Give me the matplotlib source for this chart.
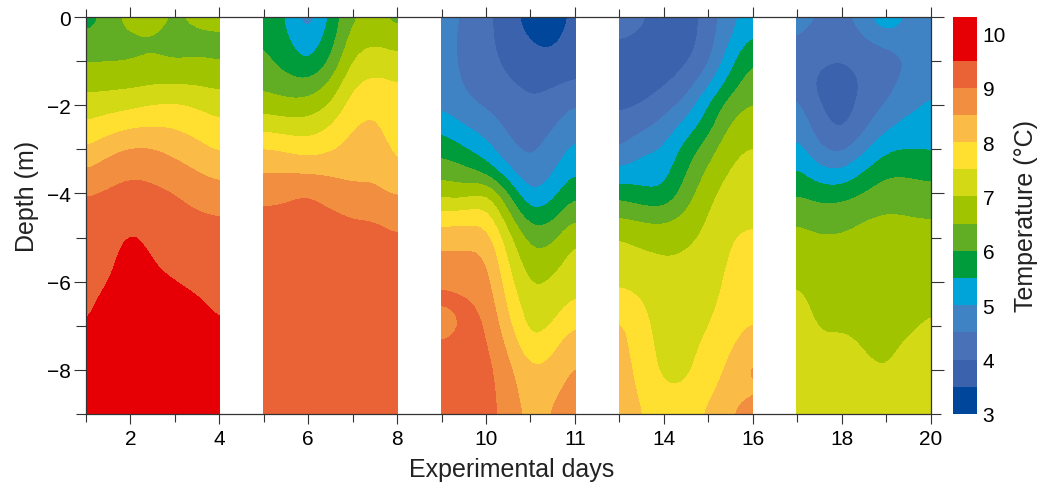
import numpy as np
import matplotlib
matplotlib.use('Agg')
import matplotlib.pyplot as plt

plt.rcParams['font.family'] = ['Liberation Sans', 'DejaVu Sans']

depth = [0, -0.5, -1, -1.5, -2, -2.5, -3, -3.5, -4, -4.5, -5, -5.5, -6, -6.5, -7, -7.5, -8, -8.5, -9]

levels = [3, 3.5, 4, 4.5, 5, 5.5, 6, 6.5, 7, 7.5, 8, 8.5, 9, 9.5, 10.3]
colors = ['#00469b', '#3a62ad', '#4971b8', '#3f83c4', '#00a4d9', '#009b3a', '#61ae24',
          '#a0c400', '#d4d916', '#ffdf2f', '#fbbc47', '#f28e40', '#ea6336', '#e60005']

x_major = [2, 4, 6, 8, 10, 12, 14, 16, 18, 20]
x_labels = ['2', '4', '6', '8', '10', '11', '14', '16', '18', '20']
y_major = [0, -2, -4, -6, -8]
y_labels = ['0', '\u22122', '\u22124', '\u22126', '\u22128']
cbar_ticks = [3, 4, 5, 6, 7, 8, 9, 10]

# each inner list is one day column, surface to bottom
days1 = [1, 1.5, 2, 2.5, 3, 3.5, 4]
temp1 = [
    [5.5, 6.2, 6.45, 6.81, 7.2, 7.59, 8.0, 8.5, 9.0, 9.09, 9.15, 9.2, 9.26, 9.33, 9.45, 9.7, 9.9, 10, 10],
    [6.3, 6.35, 6.45, 6.83, 7.28, 7.78, 8.34, 8.8, 9.06, 9.17, 9.25, 9.35, 9.48, 9.7, 9.85, 10, 10, 10, 10],
    [6.7, 6.4, 6.45, 6.85, 7.37, 7.95, 8.56, 8.94, 9.15, 9.38, 9.6, 9.75, 9.8, 9.8, 9.9, 10, 10, 10, 10],
    [6.75, 6.45, 6.54, 6.94, 7.5, 8.02, 8.53, 8.9, 9.09, 9.22, 9.35, 9.48, 9.6, 9.75, 9.85, 9.95, 10, 10, 10],
    [6.4, 6.3, 6.47, 6.95, 7.57, 7.97, 8.34, 8.7, 9.02, 9.14, 9.25, 9.37, 9.5, 9.65, 9.8, 9.9, 10, 10, 10],
    [6.7, 6.3, 6.54, 6.92, 7.44, 7.8, 8.14, 8.49, 8.82, 9.05, 9.17, 9.29, 9.41, 9.55, 9.7, 9.85, 10, 10, 10],
    [6.75, 6.35, 6.45, 6.85, 7.26, 7.61, 7.91, 8.31, 8.69, 9.01, 9.11, 9.21, 9.31, 9.41, 9.5, 9.7, 9.9, 10, 10],
]

days2 = [5, 5.5, 6, 6.5, 7, 7.5, 8]
temp2 = [
    [6.05, 6.05, 6.1, 6.38, 6.76, 7.36, 8.04, 8.48, 8.84, 9.1, 9.2, 9.22, 9.25, 9.25, 9.25, 9.25, 9.25, 9.25, 9.25],
    [5.45, 5.55, 5.8, 6.15, 6.65, 7.25, 7.92, 8.46, 8.92, 9.1, 9.2, 9.22, 9.25, 9.25, 9.25, 9.25, 9.25, 9.25, 9.25],
    [4.5, 5.1, 5.35, 6.1, 6.66, 7.22, 7.76, 8.42, 9.05, 9.15, 9.2, 9.22, 9.25, 9.25, 9.25, 9.25, 9.25, 9.25, 9.25],
    [5.6, 5.7, 6.0, 6.5, 7.0, 7.5, 7.92, 8.4, 8.78, 9.1, 9.2, 9.22, 9.25, 9.25, 9.25, 9.25, 9.25, 9.25, 9.25],
    [6.5, 6.77, 7.07, 7.45, 7.75, 8.02, 8.19, 8.36, 8.6, 8.97, 9.15, 9.2, 9.22, 9.25, 9.25, 9.25, 9.25, 9.25, 9.25],
    [6.55, 6.9, 7.3, 7.62, 7.98, 8.1, 8.23, 8.44, 8.6, 8.96, 9.15, 9.2, 9.22, 9.25, 9.25, 9.25, 9.25, 9.25, 9.25],
    [6.3, 6.7, 7.16, 7.5, 7.62, 7.74, 7.87, 7.98, 8.45, 8.75, 9.05, 9.15, 9.2, 9.22, 9.25, 9.25, 9.25, 9.25, 9.25],
]

days3 = [9, 9.5, 10, 10.5, 11, 11.5, 12]
temp3 = [
    [4.6, 4.65, 4.7, 4.75, 4.9, 5.4, 5.85, 6.3, 6.82, 7.65, 8.3, 8.6, 8.95, 9.15, 8.4, 9.25, 9.3, 9.3, 9.3],
    [4.5, 4.42, 4.4, 4.45, 4.6, 5.0, 5.55, 6.15, 6.72, 7.72, 8.3, 8.65, 8.85, 9.1, 9.2, 9.25, 9.3, 9.3, 9.3],
    [4.15, 4.15, 4.2, 4.25, 4.42, 4.8, 5.15, 5.85, 7.1, 7.8, 8.3, 8.6, 8.75, 8.9, 9.05, 9.1, 9.2, 9.2, 9.15],
    [3.65, 3.7, 3.85, 4.05, 4.2, 4.38, 4.6, 5.05, 5.98, 6.6, 7.12, 7.42, 7.65, 7.86, 8.1, 8.43, 8.6, 8.75, 8.85],
    [3.3, 3.47, 3.63, 3.9, 4.03, 4.2, 4.36, 4.55, 4.87, 5.6, 6.25, 6.6, 6.87, 7.13, 7.25, 7.55, 8.05, 8.15, 8.25],
    [3.2, 3.35, 3.6, 3.93, 4.16, 4.45, 4.7, 4.9, 5.3, 5.82, 6.3, 6.75, 7.05, 7.25, 7.48, 7.9, 8.12, 8.37, 8.55],
    [3.65, 3.72, 3.85, 4.02, 4.55, 4.85, 5.15, 5.48, 5.99, 6.4, 7.05, 7.2, 7.37, 7.6, 8.03, 8.4, 8.6, 8.75, 8.85],
]

days4 = [13, 13.5, 14, 14.5, 15, 15.5, 16]
temp4 = [
    [4.25, 4.0, 3.85, 3.8, 3.9, 4.15, 4.45, 5.07, 5.83, 6.45, 7.03, 7.2, 7.43, 7.75, 8.15, 8.2, 8.25, 8.3, 8.35],
    [4.1, 3.9, 3.8, 3.75, 3.97, 4.38, 4.9, 5.25, 5.58, 6.33, 6.83, 7.13, 7.33, 7.55, 7.65, 7.73, 7.82, 7.9, 8.0],
    [3.75, 3.7, 3.75, 3.9, 4.3, 4.65, 5.0, 5.25, 5.5, 6.25, 6.8, 7.03, 7.1, 7.17, 7.25, 7.3, 7.34, 7.55, 7.75],
    [3.7, 3.7, 3.9, 4.2, 4.62, 5.2, 5.7, 5.95, 6.25, 6.55, 6.92, 7.05, 7.12, 7.2, 7.25, 7.3, 7.38, 7.55, 7.85],
    [4.2, 4.25, 4.35, 4.85, 5.5, 5.8, 6.25, 6.6, 6.85, 7.03, 7.1, 7.15, 7.25, 7.35, 7.45, 7.65, 7.75, 7.9, 8.05],
    [4.85, 4.97, 5.33, 5.73, 6.27, 6.6, 6.88, 7.06, 7.22, 7.35, 7.5, 7.57, 7.64, 7.7, 7.86, 7.94, 8.08, 8.25, 8.45],
    [5.2, 5.6, 6.08, 6.3, 6.55, 6.82, 7.05, 7.18, 7.3, 7.44, 7.56, 7.68, 7.8, 7.9, 8.03, 8.25, 8.75, 8.4, 8.9],
]

days5 = [17, 17.5, 18, 18.5, 19, 19.5, 20]
temp5 = [
    [4.6, 4.52, 4.42, 4.5, 4.65, 4.9, 5.25, 5.6, 5.95, 6.45, 6.6, 6.75, 7.0, 7.15, 7.2, 7.25, 7.3, 7.3, 7.3],
    [4.5, 4.35, 4.07, 3.75, 3.98, 4.2, 4.5, 5.1, 5.75, 6.25, 6.55, 6.62, 6.75, 6.85, 6.95, 7.05, 7.13, 7.2, 7.25],
    [4.45, 4.2, 3.98, 3.7, 3.65, 3.85, 4.3, 5.0, 5.75, 6.3, 6.55, 6.63, 6.75, 6.85, 6.97, 7.1, 7.2, 7.25, 7.25],
    [4.6, 4.47, 4.15, 4.05, 4.2, 4.38, 4.85, 5.5, 6.0, 6.5, 6.6, 6.68, 6.75, 6.83, 6.92, 6.98, 7.1, 7.2, 7.25],
    [5.75, 4.55, 4.4, 4.35, 4.5, 4.9, 5.45, 5.9, 6.3, 6.55, 6.6, 6.65, 6.7, 6.75, 6.8, 6.85, 6.98, 7.15, 7.3],
    [4.8, 4.65, 4.47, 4.6, 4.85, 5.2, 5.5, 5.9, 6.25, 6.52, 6.6, 6.67, 6.73, 6.8, 6.9, 7.1, 7.25, 7.3, 7.35],
    [4.7, 4.75, 4.82, 4.92, 5.08, 5.27, 5.45, 5.8, 6.17, 6.49, 6.6, 6.72, 6.83, 6.95, 7.08, 7.2, 7.3, 7.35, 7.4],
]


def soften(a, axis):
    # 4x finer along one axis, then a light 1-2-1 pass so the contours round off
    n = a.shape[axis]
    fine = np.linspace(0, n - 1, (n - 1) * 4 + 1)
    b = np.apply_along_axis(lambda v: np.interp(fine, np.arange(n), v), axis, a)
    for _ in range(5):
        b = np.apply_along_axis(
            lambda v: np.convolve(np.r_[v[0], v, v[-1]], [0.25, 0.5, 0.25], mode='valid'), axis, b)
    return fine, b


fig = plt.figure(figsize=(10.37, 4.85), dpi=100)
W, H = 1037.0, 485.0
ax = fig.add_axes([86 / W, 1 - 415 / H, (930.5 - 86) / W, (415 - 18) / H])

panels = [(days1, temp1), (days2, temp2), (days3, temp3), (days4, temp4), (days5, temp5)]
for days, temp in panels:
    z = np.array(temp).T
    i, z = soften(z, 0)
    j, z = soften(z, 1)
    yy = np.interp(i, np.arange(len(depth)), depth)
    xx = np.interp(j, np.arange(len(days)), days)
    cs = ax.contourf(xx, yy, z, levels=levels, colors=colors)
    cs.set_edgecolor('face')
    cs.set_linewidth(0.3)

ax.set_xlim(1, 20)
ax.set_ylim(-9, 0)

ax.set_xticks(x_major)
ax.set_xticklabels(x_labels)
ax.set_xticks(range(1, 21, 2), minor=True)
ax.set_yticks(y_major)
ax.set_yticklabels(y_labels)
ax.set_yticks(range(-9, 0, 2), minor=True)

ax.tick_params(axis='x', which='major', direction='out', top=True, length=7.5, width=0.8,
               color='#333333', labelsize=15, pad=3)
ax.tick_params(axis='x', which='minor', direction='out', top=True, length=5.5, width=0.8, color='#333333')
ax.tick_params(axis='y', which='major', direction='out', right=True, length=9, width=0.8,
               color='#333333', labelsize=15, pad=2)
ax.tick_params(axis='y', which='minor', direction='out', right=True, length=7, width=0.8, color='#333333')
for s in ax.spines.values():
    s.set_linewidth(0.9)
    s.set_color('#333333')
    s.set_zorder(5)

ax.set_xlabel('Experimental days', fontsize=18, labelpad=7, color='#222222', x=0.5044)
ax.set_ylabel('Depth (m)', fontsize=18, labelpad=6, color='#222222', y=0.55)

cax = fig.add_axes([953 / W, 1 - 415 / H, 24 / W, (415 - 18) / H])
cb = fig.colorbar(cs, cax=cax, spacing='proportional')
cb.set_ticks(cbar_ticks)
cb.set_ticklabels([str(t) for t in cbar_ticks])
cb.outline.set_visible(False)
cax.tick_params(length=0, labelsize=15, pad=4)
cb.set_label('Temperature (\u00b0C)', fontsize=18, labelpad=5.5, color='#222222')

fig.savefig('out.png', dpi=100)
